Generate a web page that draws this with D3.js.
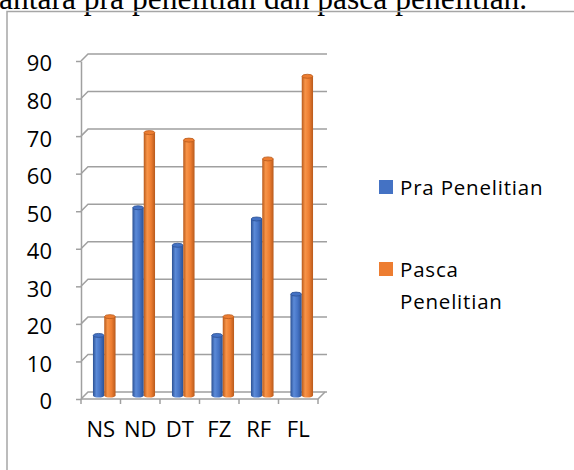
<!DOCTYPE html>
<html>
<head>
<meta charset="utf-8">
<script src="https://cdn.jsdelivr.net/npm/d3@7"></script>
<style>
  body { margin: 0; background: #fff; }
  svg { display: block; }
</style>
</head>
<body>
<svg width="574" height="470"></svg>
<script>
// data
var categories = ["NS", "ND", "DT", "FZ", "RF", "FL"];
var series = ["Pra Penelitian", "Pasca Penelitian"];
var praValues = [16, 50, 40, 16, 47, 27];
var pascaValues = [21, 70, 68, 21, 63, 85];
var yTicks = [0, 10, 20, 30, 40, 50, 60, 70, 80, 90];

var colors = { "Pra Penelitian": "#4472c4", "Pasca Penelitian": "#ed7d31" };
var darks = { "Pra Penelitian": "#2c5193", "Pasca Penelitian": "#b85a1c" };
var lights = { "Pra Penelitian": "#5b8ad8", "Pasca Penelitian": "#f89448" };

var svg = d3.select("svg");

// depth of the 3d box
var depth = 7;

var data = categories.map(function(c, i) {
  return { cat: c, values: [
    { key: series[0], value: praValues[i] },
    { key: series[1], value: pascaValues[i] }
  ]};
});

// text above the chart (cut off by the crop)
svg.append("text")
  .attr("x", -1)
  .attr("y", 9)
  .style("font-family", "'Liberation Serif', 'Times New Roman', serif")
  .style("font-size", "31.5px")
  .attr("fill", "#000")
  .text("antara pra penelitian dan pasca penelitian.");

// chart frame
svg.append("rect")
  .attr("x", 7)
  .attr("y", 11.5)
  .attr("width", 600)
  .attr("height", 500)
  .attr("fill", "none")
  .attr("stroke", "#a6a6a6")
  .attr("stroke-width", 1.5);

var x = d3.scaleBand().domain(categories).range([81, 318]);
var xs = d3.scaleBand().domain(series).range([0, x.bandwidth()]).paddingOuter(0.75);
var y = d3.scaleLinear().domain([0, 90]).range([399, 61]);

var grid = svg.append("g").attr("class", "grid");

// back wall lines + side wall diagonals
grid.selectAll(".back")
  .data(yTicks)
  .enter().append("path")
  .attr("d", function(d) {
    return "M" + x.range()[0] + "," + y(d) +
      "L" + (x.range()[0] + depth) + "," + (y(d) - depth) +
      "L" + (x.range()[1] + depth + 2) + "," + (y(d) - depth);
  })
  .attr("fill", "none")
  .attr("stroke", "#a0a0a0")
  .attr("stroke-width", 1.5);

// floor front edge and right edge
grid.append("path")
  .attr("d", "M" + x.range()[0] + "," + y(0) + "L" + x.range()[1] + "," + y(0) +
    "L" + (x.range()[1] + depth) + "," + (y(0) - depth))
  .attr("fill", "none")
  .attr("stroke", "#a0a0a0")
  .attr("stroke-width", 1.5);

// y axis
var yAxis = d3.axisLeft(y)
  .tickValues(yTicks)
  .tickSizeOuter(0)
  .tickSizeInner(5)
  .tickPadding(24);

var gy = svg.append("g")
  .attr("class", "axis axisy")
  .attr("transform", "translate(" + x.range()[0] + ",0)")
  .call(yAxis);

gy.select(".domain").attr("stroke", "#a0a0a0").attr("stroke-width", 1.5);
gy.selectAll(".tick line").attr("stroke", "#a0a0a0").attr("stroke-width", 1.5);
gy.selectAll(".tick text")
  .attr("dy", "0.45em")
  .attr("fill", "#000")
  .style("font-family", "'Open Sans', sans-serif")
  .style("font-size", "22px");

// x axis labels under the floor edge
var xAxis = d3.axisBottom(x).tickSize(0).tickPadding(24).tickSizeOuter(0);
var gx = svg.append("g")
  .attr("class", "axis axisx")
  .attr("transform", "translate(0," + y(0) + ")")
  .call(xAxis);
gx.select(".domain").remove();
gx.selectAll(".tick text")
  .attr("dy", "0.62em")
  .attr("fill", "#000")
  .style("font-family", "'Open Sans', sans-serif")
  .style("font-size", "22px");

svg.append("g").selectAll("line")
  .data(categories.concat(["end"]))
  .enter().append("line")
  .attr("x1", function(d) { return d === "end" ? x.range()[1] : x(d); })
  .attr("x2", function(d) { return d === "end" ? x.range()[1] : x(d); })
  .attr("y1", y(0))
  .attr("y2", y(0) + 5)
  .attr("stroke", "#a0a0a0")
  .attr("stroke-width", 1.5);

// cylinder gradients
var defs = svg.append("defs");
series.forEach(function(s, i) {
  var grad = defs.append("linearGradient")
    .attr("id", "grad" + i)
    .attr("x1", "0%").attr("x2", "100%").attr("y1", "0%").attr("y2", "0%");
  grad.append("stop").attr("offset", "0%").attr("stop-color", darks[s]);
  grad.append("stop").attr("offset", "30%").attr("stop-color", lights[s]);
  grad.append("stop").attr("offset", "65%").attr("stop-color", colors[s]);
  grad.append("stop").attr("offset", "100%").attr("stop-color", darks[s]);
});

// bars, pushed half way into the box
var mid = depth / 2;
var ry = 2;

var groups = svg.append("g").attr("class", "bars")
  .selectAll("g")
  .data(data)
  .enter().append("g")
  .attr("transform", function(d) {
    return "translate(" + (x(d.cat) + mid) + "," + (-mid) + ")";
  });

var bars = groups.selectAll("g")
  .data(function(d) { return d.values; })
  .enter().append("g");

bars.append("rect")
  .attr("x", function(d) { return xs(d.key); })
  .attr("y", function(d) { return y(d.value); })
  .attr("width", xs.bandwidth())
  .attr("height", function(d) { return y(0) - y(d.value); })
  .attr("fill", function(d) { return "url(#grad" + series.indexOf(d.key) + ")"; });

bars.append("ellipse")
  .attr("cx", function(d) { return xs(d.key) + xs.bandwidth() / 2; })
  .attr("cy", y(0))
  .attr("rx", xs.bandwidth() / 2)
  .attr("ry", ry)
  .attr("fill", function(d) { return "url(#grad" + series.indexOf(d.key) + ")"; });

bars.append("ellipse")
  .attr("cx", function(d) { return xs(d.key) + xs.bandwidth() / 2; })
  .attr("cy", function(d) { return y(d.value); })
  .attr("rx", xs.bandwidth() / 2 - 0.3)
  .attr("ry", ry)
  .attr("fill", function(d) { return colors[d.key]; })
  .attr("stroke", function(d) { return darks[d.key]; })
  .attr("stroke-width", 0.8);

// legend
var legend = svg.append("g").attr("class", "legend");
var legendRows = [
  { key: series[0], lines: ["Pra Penelitian"], top: 180 },
  { key: series[1], lines: ["Pasca", "Penelitian"], top: 262 }
];

var items = legend.selectAll("g")
  .data(legendRows)
  .enter().append("g");

items.append("rect")
  .attr("x", 379)
  .attr("y", function(d) { return d.top; })
  .attr("width", 14)
  .attr("height", 14)
  .attr("fill", function(d) { return colors[d.key]; });

items.append("text")
  .attr("x", 400)
  .attr("y", function(d) { return d.top + 15; })
  .attr("fill", "#000")
  .style("font-family", "'Open Sans', sans-serif")
  .style("font-size", "20.5px")
  .style("letter-spacing", "0.8px")
  .selectAll("tspan")
  .data(function(d) { return d.lines; })
  .enter().append("tspan")
  .attr("x", 400)
  .attr("dy", function(d, i) { return i === 0 ? 0 : 32; })
  .text(function(d) { return d; });
</script>
</body>
</html>
